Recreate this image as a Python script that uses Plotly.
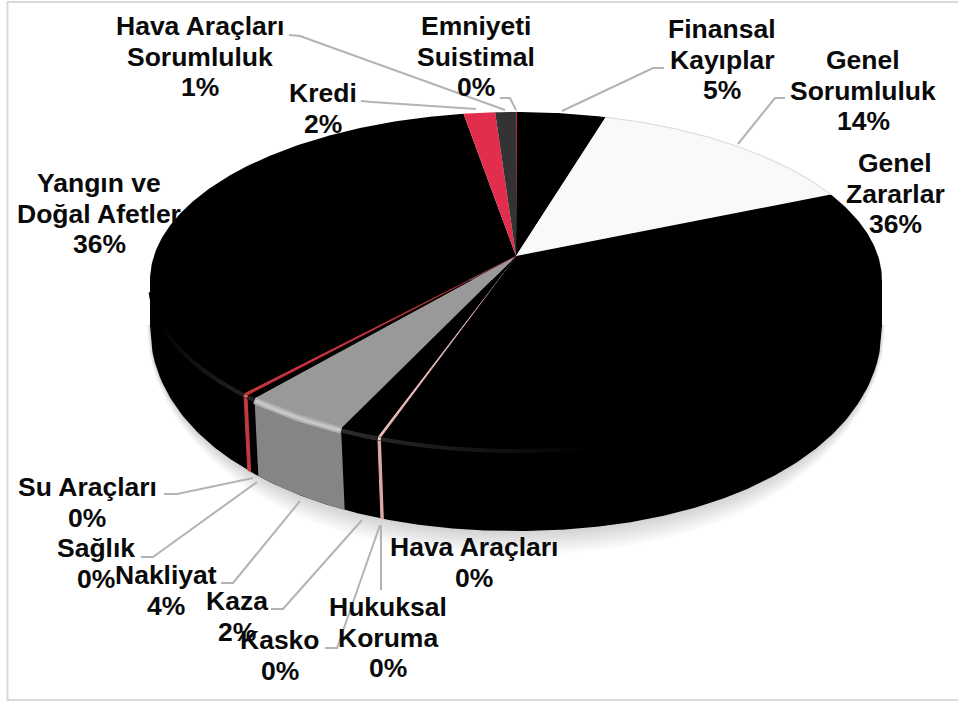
import numpy as np
import plotly.graph_objects as go

# ---- data, clockwise from 12 o'clock
categories = ["Emniyeti\nSuistimal", "Finansal\nKayıplar", "Genel\nSorumluluk", "Genel\nZararlar",
              "Hava Araçları", "Hukuksal\nKoruma", "Kasko", "Kaza", "Nakliyat", "Sağlık",
              "Su Araçları", "Yangın ve\nDoğal Afetler", "Kredi", "Hava Araçları\nSorumluluk"]
values = [0.05, 4.5, 14.0, 36.65, 0.12, 0.02, 0.03, 1.5, 4.2, 0.4, 0.2, 35.65, 1.6, 1.05]
percent_labels = ["0%", "5%", "14%", "36%", "0%", "0%", "0%", "2%", "4%", "0%", "0%", "36%", "2%", "1%"]

# ---- styles
top_colors = ["#d8203a", "#000000", "#f9f9f9", "#000000", "#e8b9b9", "#000000", "#000000",
              "#000000", "#999999", "#000000", "#c8343c", "#000000", "#e32d4c", "#333333"]
side_colors = ["#b01c30", "#000000", "#e0e0e0", "#000000", "#dca8a8", "#000000", "#000000",
               "#000000", "#858585", "#000000", "#c03a3e", "#000000", "#b8243c", "#222222"]
bevel_colors = [None, None, None, "k", "#f0d0d0", "k", "k", "k", "#c8c8c8", "k", "#e06060", "k", None, None]

# label centre x and the y of each line's centre (pixels)
label_x = [476, 722, 863, 895, 474, 388, 280, 237, 166, 96, 87, 99, 323, 200]
label_y = [26, 29, 60, 163, 547, 607, 640, 601, 575, 548, 487, 183, 93, 26]
LINE_STEP = 30.5
leaders = [
    [(500, 98), (510, 98), (516, 110)],
    [(664, 68), (653, 68), (562, 111)],
    [(785, 98), (775, 98), (738, 144)],
    None,
    [(381, 590), (381, 525)],
    None,
    [(325, 648), (337, 648), (380, 525)],
    [(271, 609), (283, 609), (362, 520)],
    [(221, 583), (233, 583), (300, 501)],
    [(141, 557), (153, 557), (257, 482)],
    [(164, 494), (177, 494), (253, 478)],
    None,
    [(361, 101), (372, 102), (476, 109)],
    [(289, 35), (300, 36), (505, 110)],
]

# ---- perspective projection of the unit disc
CX, CY = 516.0, 256.0
K, A_Y, A_X = 0.1454, -127.7, 362.1
RX, BODY_CY, BODY_RY, BODY_P = 366.0, 325.0, 206.0, 2.1
RIM_MID_Y = 280.0


def rim(theta):
    u, v = np.sin(theta), np.cos(theta)
    w = 1 + K * v
    return CX + A_X * u / w, (A_Y * v + CY) / w


def lower_edge(x):
    d = np.clip(np.abs(x - CX) / RX, 0, 1)
    return BODY_CY + BODY_RY * (1 - d ** BODY_P) ** (1 / BODY_P)


def base(theta):
    x, _ = rim(theta)
    u = np.sin(theta)
    bx = CX + (x - CX) * (1 - 0.025 * (1 - u ** 2))
    return bx, lower_edge(bx)


fig = go.Figure()


def poly(x, y, color, lw=0.0):
    fig.add_trace(go.Scatter(x=x, y=y, mode="lines", fill="toself", fillcolor=color,
                             line=dict(color=color, width=lw), hoverinfo="skip", showlegend=False))


def stroke(x, y, color, width):
    fig.add_trace(go.Scatter(x=x, y=y, mode="lines", hoverinfo="skip", showlegend=False,
                             line=dict(color=color, width=width)))


# soft shadow under the pie
xs = CX + np.linspace(-1, 1, 301) * RX
ys = lower_edge(xs)
for grow in np.linspace(24, 2, 14):
    sx = CX + (xs - CX) * (1 + grow / 2500)
    sy = ys + grow * (1 - np.abs((xs - CX) / RX) ** 4)
    poly(np.r_[sx, sx[-1], sx[0]], np.r_[sy, BODY_CY, BODY_CY], "rgba(120,120,120,0.025)")

# the dark body of the pie, between the rim and its lower edge
poly(np.r_[xs, xs[-1], xs[0]], np.r_[ys, RIM_MID_Y, RIM_MID_Y], "#000000")

total = sum(values)
edges = 2 * np.pi * np.cumsum([0] + values) / total
arcs = [np.linspace(a, b, max(3, int((b - a) * 90))) for a, b in zip(edges[:-1], edges[1:])]

# outer walls of the coloured slices at the front of the pie
for th, col in zip(arcs, side_colors):
    if np.cos(th).mean() > 0 or col == "#000000":
        continue
    x1, y1 = rim(th)
    x2, y2 = base(th)
    thin = th[-1] - th[0] < 0.02
    poly(np.r_[x1, x2[::-1]], np.r_[y1, y2[::-1]], col, lw=1 if thin else 0)

# top faces
for th, col in zip(arcs, top_colors):
    x1, y1 = rim(th)
    thin = th[-1] - th[0] < 0.02
    poly(np.r_[CX, x1], np.r_[CY, y1], col, lw=0.8 if thin else 0)

# rim highlight on the front of the pie, fading towards both ends
for th, col in zip(arcs, bevel_colors):
    if col is None:
        continue
    th = th[(th > np.radians(165)) & (th < np.radians(258))]
    if th.size < 2:
        continue
    if col == "k":
        fine = np.arange(th[0], th[-1] + 0.03, 0.03)
        for a, b in zip(fine[:-1], fine[1:]):
            level = int(50 * max(0.0, 1 - abs(np.degrees(a) - 208) / 40))
            x1, y1 = rim(np.array([a, b + 0.004]))
            stroke(x1, y1 + 2, f"rgb({level},{level},{level})", 4)
    else:
        x1, y1 = rim(th)
        if col == "#c8c8c8":
            stroke(x1, y1 + 2, "#b0b0b0", 7)
        stroke(x1, y1 + 2, col, 3)

# faint edge of the pale slice
x1, y1 = rim(arcs[2])
stroke(x1, y1, "#dddddd", 1.2)

# leader lines
for pts in leaders:
    if pts:
        stroke([p[0] for p in pts], [p[1] for p in pts], "#b3b3b3", 2)

# labels, one annotation per text line
annotations = []
for cat, pct, lx, ly in zip(categories, percent_labels, label_x, label_y):
    for i, text in enumerate(cat.split("\n") + [pct]):
        annotations.append(dict(x=lx, y=ly + i * LINE_STEP, text=f"<b>{text}</b>", showarrow=False,
                                xanchor="center", yanchor="middle",
                                font=dict(family="Liberation Sans", size=26.5, color="#0a0a0a")))

fig.update_layout(
    width=958, height=701, margin=dict(l=0, r=0, t=0, b=0),
    paper_bgcolor="white", plot_bgcolor="white", hovermode=False, showlegend=False,
    xaxis=dict(range=[0, 958], visible=False, fixedrange=True),
    yaxis=dict(range=[701, 0], visible=False, fixedrange=True),
    annotations=annotations,
    shapes=[dict(type="rect", x0=7.5, y0=2, x1=975, y1=700, layer="below",
                 line=dict(color="#d9d9d9", width=2))],
)
fig.write_html("out.html", config=dict(displayModeBar=False),
               post_script="document.body.style.margin='0';document.body.style.overflow='hidden';")
